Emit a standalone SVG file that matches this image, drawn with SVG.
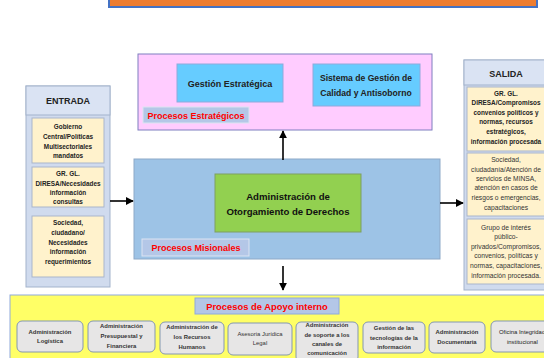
<svg xmlns="http://www.w3.org/2000/svg" width="544" height="358" viewBox="0 0 544 358">
<defs>
<marker id="ah" viewBox="0 0 10 10" refX="9" refY="5" markerWidth="5" markerHeight="5" orient="auto"><path d="M0,0 L10,5 L0,10 z" fill="#000"/></marker>
<style>
text{font-family:"Liberation Sans",Arial,sans-serif;text-anchor:middle;fill:#222}
.hdr{font-size:10px;font-weight:bold}
.io{font-size:6.4px;font-weight:bold}
.out{font-size:6.7px;fill:#333}
.lbl{font-size:9px;font-weight:bold;fill:#FF0000}
.lblbg{fill:#B4C7E7;stroke:#DCE4F2;stroke-width:1}
.cell{fill:#FFF2CC;stroke:#A9B6CB;stroke-width:1}
.sup{fill:#E7E6E6;stroke:#8497B0;stroke-width:1}
.st{font-size:5.9px;font-weight:bold;fill:#333}
.conn{stroke:#000;stroke-width:1.6;fill:none}
</style>
</defs>
<rect width="544" height="358" fill="#fff"/>
<g id="topbar"><rect x="109" y="-3" width="428" height="10" fill="#ED7D31" stroke="#4472C4" stroke-width="2"/></g>

<g id="estrategicos">
<rect x="138" y="54" width="294" height="76" fill="#FFCCFF" stroke="#7F7FBF" stroke-width="1"/>
<g id="gestion"><rect x="177" y="64" width="106" height="38" fill="#66CCFF" stroke="#8FAADC"/>
<text class="hdr" x="230" y="87" style="font-size:9px">Gestión Estratégica</text></g>
<g id="sistema"><rect x="313" y="64" width="107" height="42" fill="#66CCFF" stroke="#8FAADC"/>
<text class="hdr" x="366" y="81" style="font-size:8.6px">Sistema de Gestión de</text>
<text class="hdr" x="366" y="96" style="font-size:8.6px">Calidad y Antisoborno</text></g>
<rect class="lblbg" x="143" y="107" width="106" height="16"/>
<text class="lbl" x="196" y="118.5">Procesos Estratégicos</text>
</g>

<g id="misionales">
<rect x="134" y="159" width="306" height="100" fill="#9DC3E6" stroke="#8EA9C8" stroke-width="1"/>
<g id="otorgamiento"><rect x="215" y="174" width="146" height="58" fill="#92D050" stroke="#7F9F60"/>
<text class="hdr" x="288" y="200" style="font-size:9.6px;fill:#111">Administración de</text>
<text class="hdr" x="288" y="215" style="font-size:9.6px;fill:#111">Otorgamiento de Derechos</text></g>
<rect class="lblbg" x="142" y="239" width="107" height="17"/>
<text class="lbl" x="196" y="251">Procesos Misionales</text>
</g>

<g id="entrada">
<rect x="26" y="86" width="84" height="201" fill="#D0DBEE" stroke="#A3B3CC"/>
<rect x="26" y="86" width="84" height="29" fill="#DAE3F3" stroke="#A3B3CC"/>
<text class="hdr" x="68" y="104" style="font-size:9px">ENTRADA</text>
<rect class="cell" x="32" y="118" width="72" height="45"/>
<text class="io" x="68" y="129">Gobierno</text>
<text class="io" x="68" y="139">Central/Políticas</text>
<text class="io" x="68" y="149">Multisectoriales</text>
<text class="io" x="68" y="158">mandatos</text>
<rect class="cell" x="32" y="167" width="72" height="40"/>
<text class="io" x="68" y="176">GR. GL.</text>
<text class="io" x="68" y="186">DIRESA/Necesidades</text>
<text class="io" x="68" y="195">información</text>
<text class="io" x="68" y="204">consultas</text>
<rect class="cell" x="32" y="216" width="72" height="61"/>
<text class="io" x="68" y="225">Sociedad,</text>
<text class="io" x="68" y="235">ciudadano/</text>
<text class="io" x="68" y="245">Necesidades</text>
<text class="io" x="68" y="254">información</text>
<text class="io" x="68" y="264">requerimientos</text>
</g>

<g id="salida">
<rect x="464" y="60" width="90" height="230" fill="#D0DBEE" stroke="#A3B3CC"/>
<rect x="464" y="60" width="90" height="25" fill="#DAE3F3" stroke="#A3B3CC"/>
<text class="hdr" x="506" y="77" style="font-size:9px">SALIDA</text>
<rect class="cell" x="467" y="87" width="85" height="64"/>
<text class="io" x="506" y="96">GR. GL.</text>
<text class="io" x="506" y="105">DIRESA/Compromisos</text>
<text class="io" x="506" y="115">convenios políticos y</text>
<text class="io" x="506" y="124">normas, recursos</text>
<text class="io" x="506" y="134">estratégicos,</text>
<text class="io" x="506" y="144">información procesada</text>
<rect class="cell" x="467" y="153" width="85" height="63"/>
<text class="out" x="506" y="162">Sociedad,</text>
<text class="out" x="506" y="172">ciudadanía/Atención de</text>
<text class="out" x="506" y="181">servicios de MINSA,</text>
<text class="out" x="506" y="190">atención en casos de</text>
<text class="out" x="506" y="200">riesgos o emergencias,</text>
<text class="out" x="506" y="210">capacitaciones</text>
<rect class="cell" x="467" y="219" width="85" height="65"/>
<text class="out" x="506" y="230">Grupo de interés</text>
<text class="out" x="506" y="239">público-</text>
<text class="out" x="506" y="249">privados/Compromisos,</text>
<text class="out" x="506" y="258">convenios, políticas y</text>
<text class="out" x="506" y="268">normas, capacitaciones,</text>
<text class="out" x="506" y="278">información procesada.</text>
</g>

<g id="apoyo">
<rect x="10" y="295" width="544" height="70" fill="#FFFF66" stroke="#8FAADC" stroke-width="1"/>
<rect class="lblbg" x="195" y="298" width="144" height="16" style="stroke:#8FAADC"/>
<text class="lbl" x="267" y="310" style="font-size:9.4px">Procesos de Apoyo interno</text>
<g id="s1"><rect class="sup" x="17" y="321" width="66" height="31" rx="5"/>
<text class="st" x="50" y="334">Administración</text><text class="st" x="50" y="343">Logística</text></g>
<g id="s2"><rect class="sup" x="88" y="321" width="67" height="31" rx="5"/>
<text class="st" x="121.5" y="328">Administración</text><text class="st" x="121.5" y="338">Presupuestal y</text><text class="st" x="121.5" y="348">Financiera</text></g>
<g id="s3"><rect class="sup" x="160" y="322" width="64" height="32" rx="5"/>
<text class="st" x="192" y="329">Administración de</text><text class="st" x="192" y="339">los Recursos</text><text class="st" x="192" y="349">Humanos</text></g>
<g id="s4"><rect class="sup" x="228" y="323" width="64" height="32" rx="5"/>
<text class="st" x="260" y="336" style="font-weight:normal">Asesoria Jurídica</text><text class="st" x="260" y="345" style="font-weight:normal">Legal</text></g>
<g id="s5"><rect class="sup" x="296" y="322" width="62" height="40" rx="5"/>
<text class="st" x="327" y="327">Administración</text><text class="st" x="327" y="337">de soporte a los</text><text class="st" x="327" y="346">canales de</text><text class="st" x="327" y="355">comunicación</text></g>
<g id="s6"><rect class="sup" x="363" y="322" width="62" height="31" rx="5"/>
<text class="st" x="394" y="330">Gestión de las</text><text class="st" x="394" y="340">tecnologías de la</text><text class="st" x="394" y="349">información</text></g>
<g id="s7"><rect class="sup" x="429" y="322" width="56" height="31" rx="5"/>
<text class="st" x="457" y="334">Administración</text><text class="st" x="457" y="344">Documentaria</text></g>
<g id="s8"><rect class="sup" x="491" y="321" width="70" height="31" rx="5"/>
<text class="st" x="499" y="334" style="text-anchor:start;font-weight:normal;fill:#222">Oficina Integridad</text><text class="st" x="507" y="344" style="text-anchor:start;font-weight:normal;fill:#222">institucional</text></g>
</g>

<g id="connectors">
<line class="conn" x1="110" y1="201" x2="133" y2="201" marker-end="url(#ah)"/>
<line class="conn" x1="440" y1="203" x2="463" y2="203" marker-end="url(#ah)"/>
<line class="conn" x1="283" y1="160" x2="283" y2="131" marker-end="url(#ah)"/>
<line class="conn" x1="283" y1="266" x2="283" y2="290" marker-end="url(#ah)"/>
</g>
</svg>
